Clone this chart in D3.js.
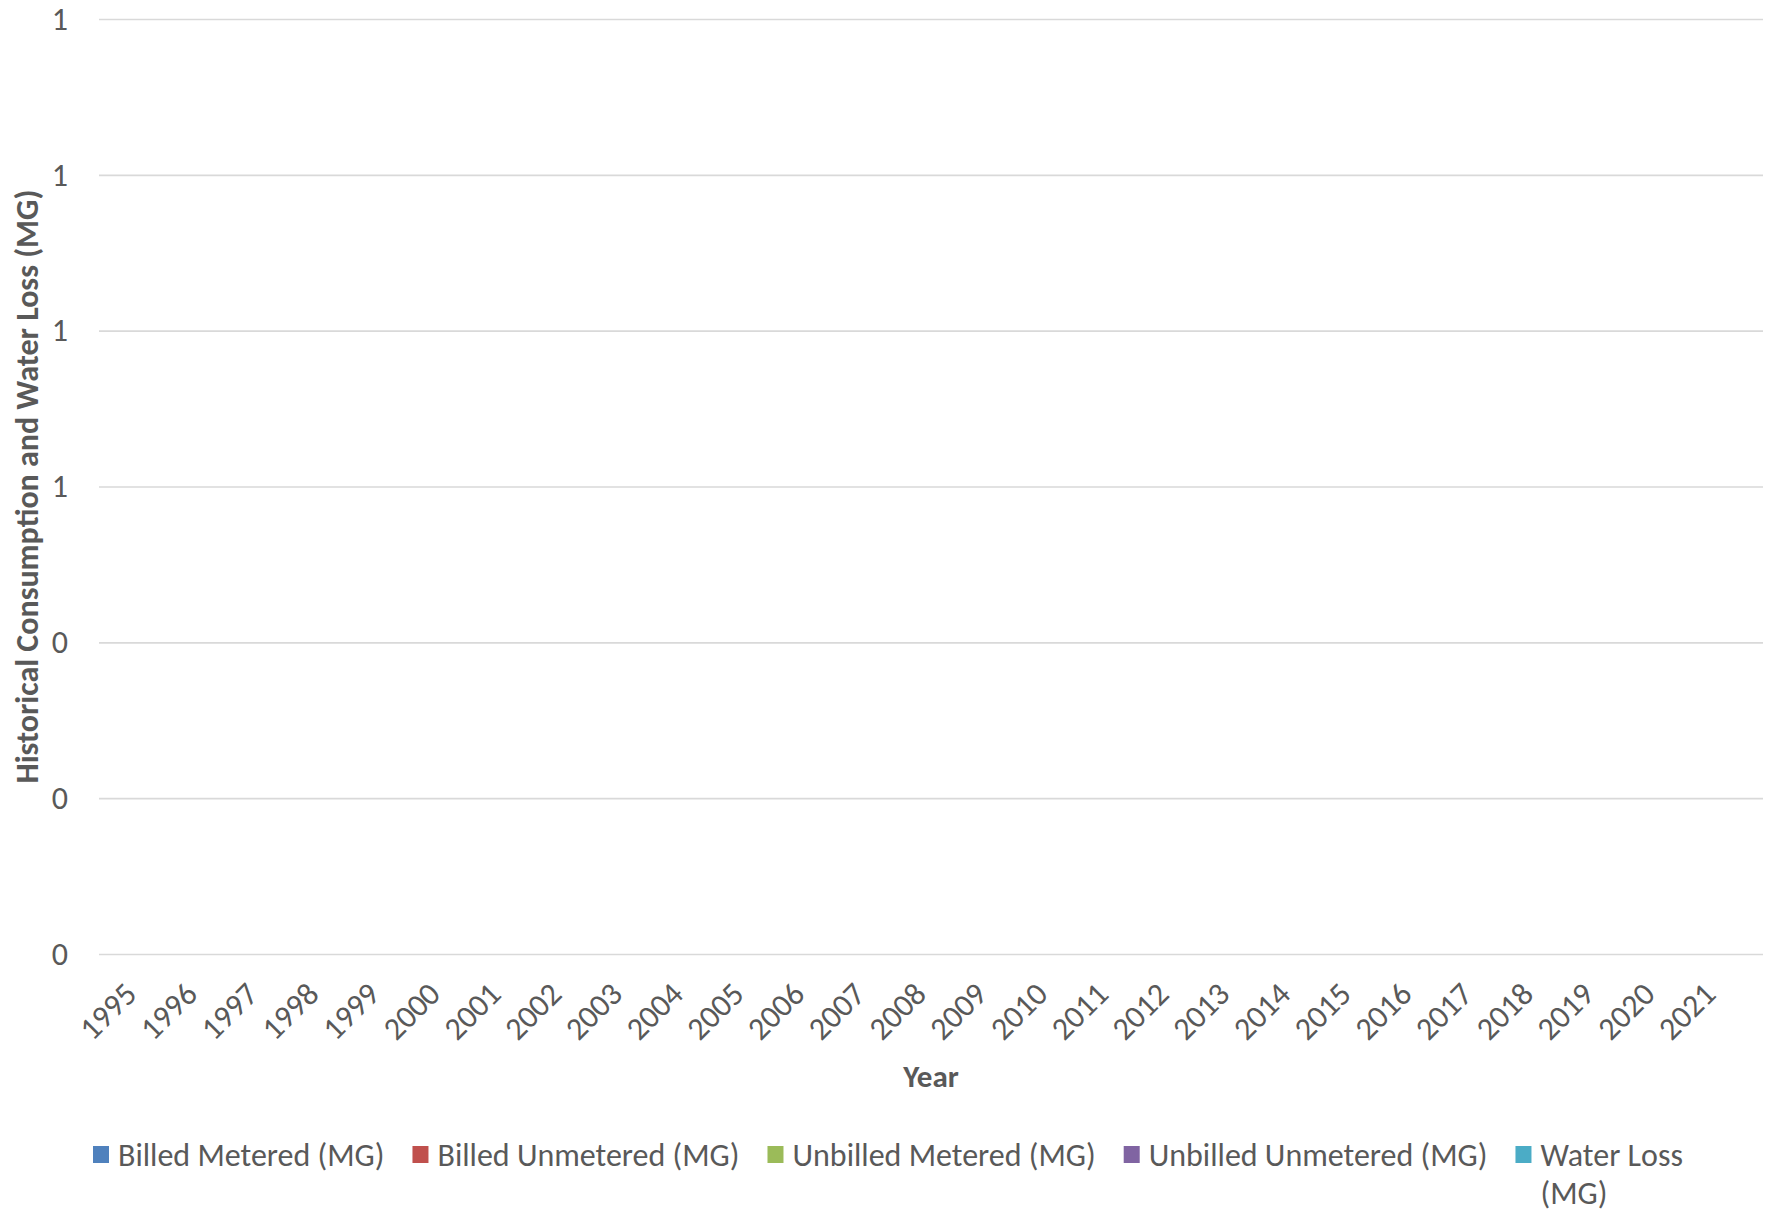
<!DOCTYPE html>
<html>
<head>
<meta charset="utf-8">
<script src="https://cdn.jsdelivr.net/npm/d3@7"></script>
<style>
  body { margin: 0; background: #fff; }
  svg text { font-family: Carlito, Calibri, Lato, 'Open Sans', sans-serif; fill: #595959; }
</style>
</head>
<body>
<svg id="chart" width="1772" height="1215"></svg>
<script>
// ── Data ──
const years = ['1995', '1996', '1997', '1998', '1999', '2000', '2001', '2002', '2003',
  '2004', '2005', '2006', '2007', '2008', '2009', '2010', '2011', '2012', '2013',
  '2014', '2015', '2016', '2017', '2018', '2019', '2020', '2021'];

// every series in the source is empty (all zero)
const billedMetered     = [0, 0, 0, 0, 0, 0, 0, 0, 0, 0, 0, 0, 0, 0, 0, 0, 0, 0, 0, 0, 0, 0, 0, 0, 0, 0, 0];
const billedUnmetered   = [0, 0, 0, 0, 0, 0, 0, 0, 0, 0, 0, 0, 0, 0, 0, 0, 0, 0, 0, 0, 0, 0, 0, 0, 0, 0, 0];
const unbilledMetered   = [0, 0, 0, 0, 0, 0, 0, 0, 0, 0, 0, 0, 0, 0, 0, 0, 0, 0, 0, 0, 0, 0, 0, 0, 0, 0, 0];
const unbilledUnmetered = [0, 0, 0, 0, 0, 0, 0, 0, 0, 0, 0, 0, 0, 0, 0, 0, 0, 0, 0, 0, 0, 0, 0, 0, 0, 0, 0];
const waterLoss         = [0, 0, 0, 0, 0, 0, 0, 0, 0, 0, 0, 0, 0, 0, 0, 0, 0, 0, 0, 0, 0, 0, 0, 0, 0, 0, 0];

const seriesNames = ['Billed Metered (MG)', 'Billed Unmetered (MG)', 'Unbilled Metered (MG)',
  'Unbilled Unmetered (MG)', 'Water Loss (MG)'];
const yTicks = [0, 0.2, 0.4, 0.6, 0.8, 1.0, 1.2];

const colors = ['#4F81BD', '#C0504D', '#9BBB59', '#8064A2', '#4BACC6'];
const keys = ['bm', 'bu', 'um', 'uu', 'wl'];
const allSeries = [billedMetered, billedUnmetered, unbilledMetered, unbilledUnmetered, waterLoss];

const rows = years.map((yr, i) => {
  const r = { year: yr };
  keys.forEach((k, j) => { r[k] = allSeries[j][i]; });
  return r;
});

const margin = { top: 19, right: 9, bottom: 261, left: 99 };
const W = 1772, H = 1215;
const width = W - margin.left - margin.right;
const height = H - margin.top - margin.bottom;
const fs = '32px';

const svg = d3.select('#chart');
const g = svg.append('g').attr('transform', `translate(${margin.left},${margin.top})`);

const x = d3.scaleBand().domain(years).range([0, width]).padding(0.4);
const y = d3.scaleLinear().domain([0, 1.2]).range([height, 0]);

// Grid
g.append('g')
  .call(d3.axisLeft(y).tickValues(yTicks).tickSize(-width).tickFormat(''))
  .call(s => s.select('.domain').remove())
  .selectAll('line').attr('stroke', '#D9D9D9').attr('stroke-width', 1.6);

// Stacked columns (all zero height)
const stacked = d3.stack().keys(keys)(rows);
g.selectAll('.series')
  .data(stacked).enter().append('g')
  .attr('fill', (d, i) => colors[i])
  .selectAll('rect')
  .data(d => d).enter().append('rect')
  .attr('x', d => x(d.data.year))
  .attr('y', d => y(d[1]))
  .attr('width', x.bandwidth())
  .attr('height', d => y(d[0]) - y(d[1]));

// Y axis labels
const yAxis = g.append('g')
  .call(d3.axisLeft(y).tickValues(yTicks).tickSize(0).tickPadding(31).tickFormat(d3.format('.0f')));
yAxis.select('.domain').remove();
yAxis.selectAll('text').style('font-size', fs).attr('fill', '#595959');

// X axis labels
const xAxis = g.append('g')
  .attr('transform', `translate(0,${height})`)
  .call(d3.axisBottom(x).tickSize(0).tickPadding(0));
xAxis.select('.domain').remove();
xAxis.selectAll('text')
  .style('font-size', fs)
  .attr('fill', '#595959')
  .attr('text-anchor', 'end')
  .attr('dy', '0.35em')
  .attr('transform', 'translate(-11,34) rotate(-45)');

// Axis titles
svg.append('text')
  .attr('x', margin.left + width / 2).attr('y', 1076)
  .attr('dy', '0.35em').attr('text-anchor', 'middle')
  .style('font-size', '31px').style('font-weight', 'bold')
  .text('Year');

svg.append('text')
  .attr('transform', `translate(27,${margin.top + height / 2}) rotate(-90)`)
  .attr('dy', '0.35em').attr('text-anchor', 'middle')
  .style('font-size', fs).style('font-weight', 'bold')
  .text('Historical Consumption and Water Loss (MG)');

// Legend
const legend = svg.append('g');
const legendRight = 1720;
let lx = 93;
const ly = 1155;
seriesNames.forEach((name, i) => {
  legend.append('rect')
    .attr('x', lx).attr('y', ly - 9).attr('width', 16).attr('height', 17)
    .attr('fill', colors[i]);
  const t = legend.append('text')
    .attr('x', lx + 25).attr('y', ly).attr('dy', '0.35em')
    .style('font-size', fs).text(name);
  let tw = t.node().getComputedTextLength();
  if (lx + 25 + tw > legendRight) {
    const words = name.split(' ');
    const last = words.pop();
    t.text(words.join(' '));
    legend.append('text')
      .attr('x', lx + 25).attr('y', ly + 38).attr('dy', '0.35em')
      .style('font-size', fs).text(last);
    tw = t.node().getComputedTextLength();
  }
  lx += 25 + tw + 28;
});
</script>
</body>
</html>
